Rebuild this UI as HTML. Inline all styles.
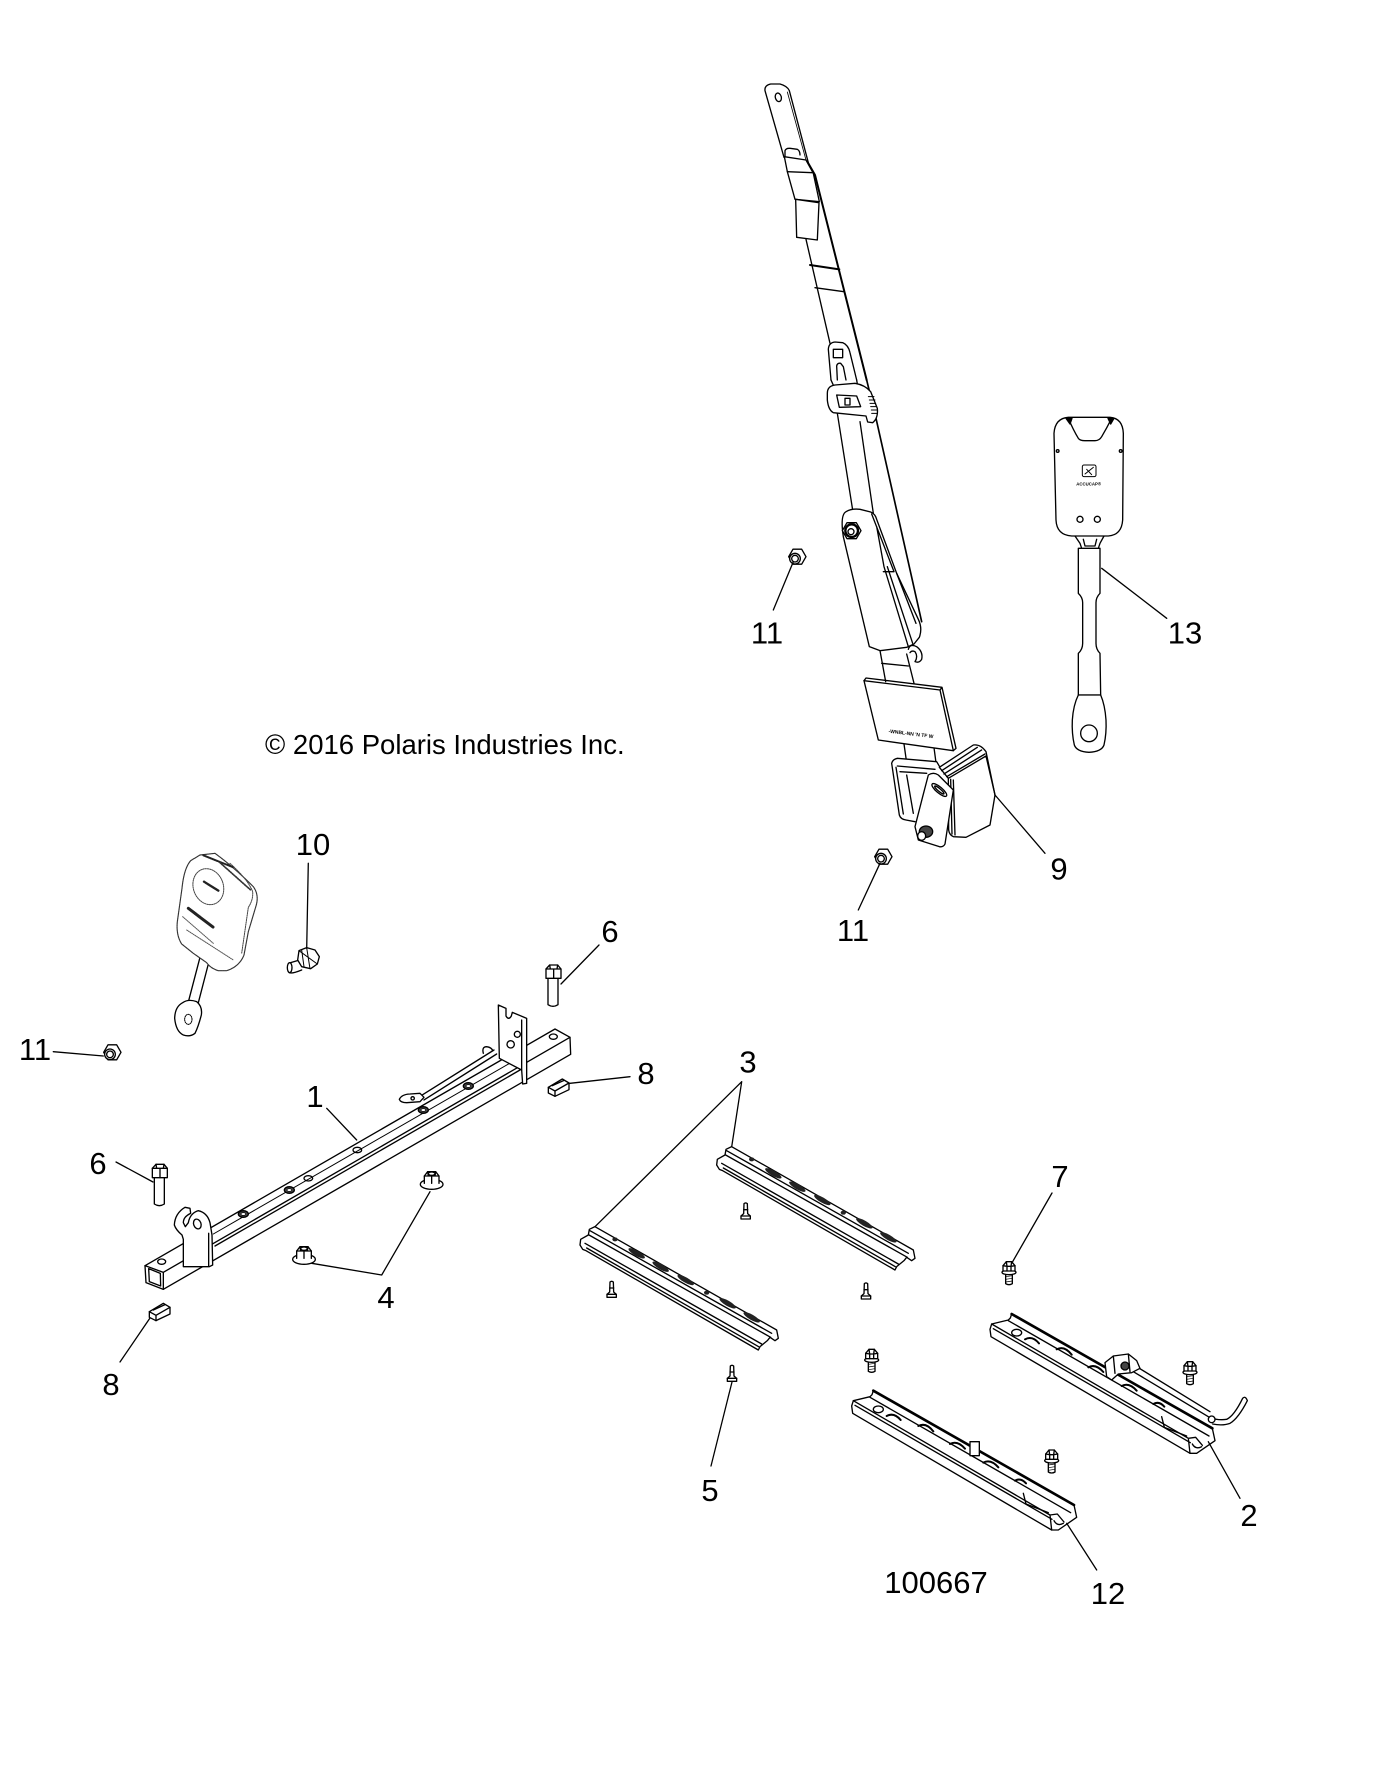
<!DOCTYPE html>
<html><head><meta charset="utf-8">
<style>
html,body{margin:0;padding:0;background:#fff;}
svg{display:block;}
text{font-family:"Liberation Sans",Arial,sans-serif;fill:#000;}
</style></head><body>
<svg width="1386" height="1782" viewBox="0 0 1386 1782" xmlns="http://www.w3.org/2000/svg" xmlns:xlink="http://www.w3.org/1999/xlink">
<rect width="1386" height="1782" fill="#fff"/>
<defs>
  <g id="nut">
    <polygon points="26,0 13,22.5 -13,22.5 -26,0 -13,-22.5 13,-22.5" fill="#fff"/>
    <circle cx="-7" cy="6" r="16" fill="#fff"/>
    <circle cx="-7" cy="6" r="10"/>
  </g>
  <g id="fb">
    <path d="M-10,14 L-10,46 Q0,52 10,46 L10,14" fill="#fff"/>
    <path d="M-10,25 L10,22 M-10,33 L10,30 M-10,41 L10,38" stroke-width="2"/>
    <ellipse cx="0" cy="12" rx="21" ry="7" fill="#fff"/>
    <path d="M-18,8 L-18,-8 L-8,-20 L8,-20 L18,-8 L18,8 Z" fill="#fff"/>
    <path d="M-8,-20 L-6,-6 L6,-6 L8,-20 M-18,-8 L-6,-6 M18,-8 L6,-6 M-6,-6 L-6,8 M6,-6 L6,8"/>
  </g>
  <g id="pin">
    <path d="M-5,-24 Q0,-28 5,-24 L6,6 L14,13 L14,22 L-14,22 L-14,13 L-6,6 Z" fill="#fff"/>
    <path d="M-6,-6 L6,-6 M-14,13 L14,13"/>
  </g>
  <g id="r3">
    <path d="M515,320 L1060,630 L1065,655 L1055,662 L1040,652 L1032,662 L1010,680 L1005,690 L488,392 L478,388 L470,375 L472,358 L495,345 L498,328 Z" fill="#fff"/>
    <path d="M500,332 L1045,640 M497,345 L1042,652 M485,370 L1015,672 M490,384 L1006,680"/>
    <g fill="#222" stroke="none">
      <ellipse cx="575" cy="358" rx="8" ry="6"/>
      <ellipse cx="640" cy="400" rx="28" ry="8" transform="rotate(30 640 400)"/>
      <ellipse cx="712" cy="440" rx="28" ry="8" transform="rotate(30 712 440)"/>
      <ellipse cx="787" cy="480" rx="28" ry="8" transform="rotate(30 787 480)"/>
      <ellipse cx="850" cy="518" rx="8" ry="6"/>
      <ellipse cx="913" cy="550" rx="28" ry="8" transform="rotate(30 913 550)"/>
      <ellipse cx="985" cy="592" rx="28" ry="8" transform="rotate(30 985 592)"/>
    </g>
  </g>
  <g id="r12">
    <path d="M70,182 L672,525 L680,562 L625,600 L605,600 L8,250 L5,228 L10,212 L60,200 L66,194 Z" fill="#fff"/>
    <path d="M70,182 L672,525" stroke-width="8"/>
    <path d="M10,212 L600,555 L605,600 M15,226 L606,568 M60,202 L662,548 M600,555 L622,552 L642,576 M612,572 Q622,590 640,580"/>
    <path d="M110,258 Q132,246 152,270 M205,288 Q228,276 250,304 M300,342 Q322,330 345,356 M400,398 Q422,386 445,412 M495,452 Q512,442 528,460" stroke-width="6"/>
    <ellipse cx="85" cy="238" rx="15" ry="10"/>
    <path d="M520,490 L528,522 L595,548"/>
  </g>
  <g id="clip8">
    <path d="M88,935 L130,910 L150,922 L150,942 L108,962 L88,952 Z" fill="#fff"/>
    <path d="M88,935 L108,946 L150,922 M108,946 L108,962 M100,930 L135,914"/>
  </g>
  <g id="bolt6">
    <path d="M103,533 L103,612 Q118,622 133,612 L133,533" fill="#fff"/>
    <path d="M97,505 L108,493 L132,493 L142,505 L142,533 L97,533 Z" fill="#fff"/>
    <path d="M108,493 L110,505 L130,505 L132,493 M97,505 L142,505 M120,505 L120,533"/>
  </g>
  <g id="nut4">
    <ellipse cx="0" cy="15" rx="34" ry="15" fill="#fff"/>
    <path d="M-22,12 L-22,-10 L-12,-23 L12,-23 L22,-10 L22,12" fill="#fff"/>
    <path d="M-22,-10 L22,-10 M0,-10 L0,12 M-12,-23 L-10,-10 M12,-23 L10,-10"/>
    <ellipse cx="0" cy="-17" rx="10" ry="5"/>
  </g>
</defs>

<g fill="none" stroke="#000" stroke-width="4" stroke-linejoin="round" stroke-linecap="round">

<!-- ===== Belt top (zoom 9 frame) ===== -->
<g transform="translate(700,60) scale(0.33333)">
  <path d="M252,292 L195,92 Q193,76 212,72 L240,72 Q262,78 268,92 L325,308"/>
  <path d="M262,96 L318,300" stroke-width="2.5"/>
  <ellipse cx="235" cy="112" rx="9" ry="13" transform="rotate(-15 235 112)"/>
  <path d="M255,290 L255,272 Q258,264 270,265 L292,268 Q300,272 300,285"/>
  <path d="M253,290 L318,300 L340,340 L358,425 L285,418 L262,335 Z" fill="#fff"/>
  <path d="M262,335 L338,338"/>
  <path d="M287,418 L357,428 L352,540 L290,532 Z" fill="#fff"/>
  <path d="M322,305 L345,345 L500,960" stroke-width="6"/>
  <path d="M318,538 L390,850"/>
  <path d="M330,615 L418,628" stroke-width="6"/>
  <path d="M345,683 L432,695"/>
  <path d="M393,960 L385,868 Q386,848 405,846 L428,848 Q445,855 450,878 L470,960"/>
  <rect x="400" y="868" width="28" height="25"/>
  <path d="M412,960 L410,918 Q412,908 422,910 L430,920 L438,960"/>
</g>

<!-- ===== Belt middle, buckle 13 (zoom 10 frame) ===== -->
<g transform="translate(740,380) scale(0.33333)">
  <path d="M273,0 L282,20 M350,0 L352,12"/>
  <path d="M292,100 L338,390"/>
  <path d="M360,125 L400,400"/>
  <path d="M380,0 L408,115 L545,725" stroke-width="5"/>
  <path d="M262,40 Q262,18 285,15 L345,10 Q375,15 392,35 L412,85 Q415,115 398,128 L383,126 L378,108 L298,100 L280,98 Q265,90 262,60 Z" fill="#fff"/>
  <path d="M290,45 L350,48 L362,80 L298,82 Z"/>
  <rect x="315" y="55" width="15" height="20"/>
  <path d="M385,50 L402,50 M388,60 L405,60 M390,70 L407,70 M392,80 L409,80 M394,90 L411,90 M395,100 L411,100" stroke-width="3"/>
  <!-- arm -->
  <path d="M310,470 Q300,405 318,395 Q335,385 360,388 L392,396 Q406,402 410,418 L470,580 L535,718 Q548,745 538,772 L522,792 L500,802 L420,812 L388,800 Z" fill="#fff"/>
  <path d="M395,402 L462,575 M410,440 L432,560 L505,800 M442,560 L518,790 M430,575 L462,575 M470,580 L528,730"/>
  <polygon points="363,452 349,476 321,476 307,452 321,428 349,428" fill="#fff"/>
  <circle cx="335" cy="452" r="19" fill="#fff" stroke-width="7"/>
  <circle cx="333" cy="455" r="9"/>
  <path d="M505,808 Q510,790 530,800 Q550,815 545,838 Q538,850 525,845 Q535,830 525,815 Q515,810 510,818"/>
  <path d="M420,812 L437,905 M500,822 L522,910 M425,850 L505,858"/>
  <!-- nut 11 upper -->
  <use xlink:href="#nut" href="#nut" x="172" y="530"/>
  <!-- buckle 13 -->
  <path d="M1015,505 L1080,505 L1080,640 Q1068,652 1068,668 L1068,790 Q1068,808 1080,820 L1082,945 L1015,945 L1015,820 Q1028,808 1028,790 L1028,668 Q1028,652 1015,640 Z" fill="#fff"/>
  <path d="M1015,945 Q1000,975 997,1020 Q995,1060 1003,1095 Q1010,1115 1047,1117 Q1085,1115 1092,1095 Q1100,1060 1098,1020 Q1095,975 1082,945 Z" fill="#fff"/>
  <circle cx="1047" cy="1060" r="25"/>
  <path d="M1005,468 L1020,490 L1025,505 L1075,505 L1080,490 L1092,468" fill="#fff"/>
  <path d="M1030,478 L1035,498 L1065,498 L1070,478"/>
  <path d="M985,112 L1110,112 Q1148,115 1150,160 L1148,420 Q1145,465 1105,468 L995,468 Q950,465 948,420 L942,160 Q945,115 985,112 Z" fill="#fff"/>
  <path d="M985,115 Q1000,150 1015,175 Q1020,182 1035,182 L1065,182 Q1078,182 1085,170 Q1100,145 1115,115"/>
  <polygon points="978,115 996,115 990,132" fill="#000"/>
  <polygon points="1104,115 1122,115 1112,132" fill="#000"/>
  <circle cx="953" cy="213" r="4"/>
  <circle cx="1142" cy="213" r="4"/>
  <rect x="1027" y="255" width="41" height="35" rx="5" stroke-width="3"/>
  <path d="M1035,282 L1060,262 M1040,268 L1055,284" stroke-width="3"/>
  <text x="1046" y="316" font-size="13" font-weight="bold" text-anchor="middle" stroke="none">ACCUCAP®</text>
  <circle cx="1020" cy="418" r="9"/>
  <circle cx="1072" cy="418" r="9"/>
</g>

<!-- ===== Retractor (zoom 11 frame) ===== -->
<g transform="translate(740,680) scale(0.33333)">
  <path d="M492,192 L500,248 M582,203 L588,248"/>
  <path d="M372,2 L378,-6 L606,22 L600,30 M606,22 L648,205 L640,212" />
  <polygon points="372,2 600,30 640,212 415,180" fill="#fff"/>
  <text x="445" y="158" font-size="15" font-weight="bold" transform="rotate(7 445 158)" stroke="none">-WNBL-NN 'N TF W</text>
  <path d="M455,250 Q458,238 472,235 L590,245 L600,262 M455,250 L478,405 Q482,418 498,420 L525,425 M468,262 L490,402 M472,258 L585,268 M480,275 L560,280 M500,285 L520,400" fill="#fff"/>
  <path d="M598,262 L700,195 Q722,192 738,215 L765,345 L750,435 L678,472 L640,470 Q628,465 626,450 L625,295 Z" fill="#fff"/>
  <path d="M605,272 L712,202 M612,282 L725,210 M620,290 L735,222 M625,295 L738,228 L765,345 M640,300 L645,465 M632,298 L636,462"/>
  <path d="M565,285 Q580,275 595,285 L640,330 L615,492 Q610,502 598,500 L535,480 L525,440 L548,350 Z" fill="#fff"/>
  <ellipse cx="598" cy="330" rx="28" ry="9" transform="rotate(40 598 330)"/>
  <ellipse cx="598" cy="330" rx="18" ry="4" transform="rotate(40 598 330)"/>
  <ellipse cx="558" cy="455" rx="20" ry="17" fill="#444"/>
  <ellipse cx="545" cy="468" rx="12" ry="13" fill="#fff"/>
  <use xlink:href="#nut" href="#nut" x="430" y="530"/>
</g>

<!-- ===== Left buckle / bolt 10 / nut 11 (zoom 12 frame) ===== -->
<g transform="translate(0,820) scale(0.33333)">
  <path d="M600,412 L566,542 M625,432 L595,548"/>
  <path d="M548,548 Q565,536 590,545 Q608,560 604,585 Q595,620 585,640 Q570,652 550,645 Q528,635 524,595 Q525,560 548,548 Z" fill="#fff"/>
  <ellipse cx="565" cy="598" rx="11" ry="15" stroke-dasharray="3 3" stroke-width="3"/>
  <path d="M600,105 L645,100 Q700,140 760,200 Q778,225 768,258 L745,335 L732,405 Q718,440 680,452 L655,452 Q632,445 620,428 L580,400 L545,372 Q528,345 532,305 L546,205 Q552,145 572,122 Z" fill="#fff" stroke="#333" stroke-width="3.5" stroke-dasharray="5 2"/>
  <path d="M690,130 Q745,180 758,215 Q760,240 745,262 L725,400" stroke="#444" stroke-width="3" stroke-dasharray="4 3"/>
  <ellipse cx="625" cy="200" rx="45" ry="55" transform="rotate(-20 625 200)" stroke="#444" stroke-width="3" stroke-dasharray="4 3"/>
  <path d="M565,265 L640,322" stroke="#222" stroke-width="9" stroke-dasharray="3 2"/>
  <path d="M612,185 L655,212" stroke="#222" stroke-width="7" stroke-dasharray="3 2"/>
  <path d="M610,106 L700,142" stroke="#222" stroke-width="6" stroke-dasharray="4 3"/>
  <path d="M660,128 L752,210" stroke="#333" stroke-width="5" stroke-dasharray="3 4"/>
  <path d="M548,290 L640,370 M560,330 L700,420" stroke="#555" stroke-width="3" stroke-dasharray="3 3"/>
  <!-- bolt 10 -->
  <path d="M905,418 L872,428 Q860,440 868,458 Q876,462 905,450" fill="#fff"/>
  <ellipse cx="869" cy="443" rx="7" ry="15" fill="#fff"/>
  <polygon points="897,392 920,383 945,390 958,410 952,432 932,446 905,440 893,420" fill="#fff"/>
  <path d="M905,390 L912,440 M920,383 L930,446 M897,392 L952,432" stroke-width="3"/>
  <use xlink:href="#nut" href="#nut" x="337" y="697"/>
</g>

<!-- ===== Tube (item 1), nuts 4, bolts 6, clips 8 (zoom 6 frame) ===== -->
<g transform="translate(120,1000) scale(0.33333)">
  <path d="M75,797 L1305,87 L1350,112 L1352,163 L130,868 L78,848 Z" fill="#fff"/>
  <path d="M75,797 L130,817 L130,868 M130,817 L1350,112"/>
  <path d="M285,738 L1200,210"/>
  <path d="M280,702 L1195,175" stroke-width="3"/>
  <path d="M86,806 L121,820 L122,858 L88,845 Z"/>
  <ellipse cx="125" cy="785" rx="12" ry="8"/>
  <ellipse cx="1300" cy="110" rx="12" ry="8"/>
  <g fill="#444">
    <ellipse cx="370" cy="642" rx="15" ry="10"/>
    <ellipse cx="508" cy="570" rx="15" ry="10"/>
    <ellipse cx="910" cy="330" rx="15" ry="10"/>
    <ellipse cx="1045" cy="258" rx="15" ry="10"/>
  </g>
  <g fill="#fff" stroke-width="2">
    <ellipse cx="370" cy="642" rx="7" ry="4"/>
    <ellipse cx="508" cy="570" rx="7" ry="4"/>
    <ellipse cx="910" cy="330" rx="7" ry="4"/>
    <ellipse cx="1045" cy="258" rx="7" ry="4"/>
  </g>
  <ellipse cx="565" cy="535" rx="13" ry="8"/>
  <ellipse cx="712" cy="450" rx="13" ry="8"/>
  <!-- near bracket -->
  <path d="M190,800 L190,718 L186,705 Q168,690 163,675 Q165,640 195,622 L210,625 L212,640 Q190,650 190,668 L196,680 L205,668 Q210,640 235,632 Q262,638 270,668 L276,705 L278,795 L268,800 Z" fill="#fff"/>
  <path d="M266,700 L266,798"/>
  <ellipse cx="232" cy="672" rx="11" ry="15" transform="rotate(-20 232 672)"/>
  <!-- lever -->
  <path d="M905,286 L1122,150 M912,300 L1130,162"/>
  <path d="M1090,160 Q1085,140 1100,140 Q1115,142 1118,152"/>
  <path d="M838,298 Q845,283 870,282 L900,280 L912,292 L900,305 L860,308 Q842,308 838,298 Z" fill="#fff"/>
  <circle cx="878" cy="295" r="5"/>
  <!-- far bracket -->
  <path d="M1135,15 L1158,25 L1158,48 Q1166,62 1174,48 L1177,37 L1220,55 L1220,250 L1208,252 L1205,210 L1138,175 Z" fill="#fff"/>
  <path d="M1205,60 L1205,210"/>
  <circle cx="1192" cy="103" r="9"/>
  <circle cx="1172" cy="133" r="11"/>
  <!-- nuts 4 -->
  <use xlink:href="#nut4" href="#nut4" x="935" y="538"/>
  <use xlink:href="#nut4" href="#nut4" x="552" y="763"/>
  <!-- bolts 6 -->
  <use xlink:href="#bolt6" href="#bolt6"/>
  <use xlink:href="#bolt6" href="#bolt6" transform="translate(1181,-598)"/>
  <!-- clips 8 -->
  <use xlink:href="#clip8" href="#clip8"/>
  <use xlink:href="#clip8" href="#clip8" transform="translate(1197,-673)"/>
</g>

<!-- ===== Rails 3, pins 5, bolt 7 (zoom 7 frame) ===== -->
<g transform="translate(560,1040) scale(0.33333)">
  <use xlink:href="#r3" href="#r3"/>
  <use xlink:href="#r3" href="#r3" transform="translate(-410,240)"/>
  <use xlink:href="#pin" href="#pin" x="557" y="515"/>
  <use xlink:href="#pin" href="#pin" x="155" y="750"/>
  <use xlink:href="#pin" href="#pin" x="918" y="755"/>
  <use xlink:href="#pin" href="#pin" x="516" y="1002"/>
  <use xlink:href="#fb" href="#fb" x="1347" y="685"/>
</g>

<!-- ===== Rails 12 & 2, bolts (zoom 8 frame) ===== -->
<g transform="translate(850,1330) scale(0.33333)">
  <use xlink:href="#r12" href="#r12" transform="translate(415,-230)"/>
  <path d="M860,110 L1080,245 M850,125 L1075,260"/>
  <path d="M765,98 L790,78 L835,72 L860,92 L870,115 L845,128 L805,132 L785,150 L770,140 Z" fill="#fff"/>
  <circle cx="825" cy="108" r="12" fill="#444"/>
  <path d="M790,78 L795,130 M835,72 L840,125"/>
  <path d="M1078,262 Q1105,272 1130,268 Q1152,258 1178,205 M1088,282 Q1118,288 1140,280 Q1165,265 1192,212 M1178,205 Q1186,196 1192,212"/>
  <circle cx="1085" cy="268" r="10" fill="#fff"/>
  <use xlink:href="#r12" href="#r12"/>
  <rect x="360" y="335" width="28" height="42" fill="#fff"/>
  <use xlink:href="#fb" href="#fb" x="65" y="78"/>
  <use xlink:href="#fb" href="#fb" x="1020" y="115"/>
  <use xlink:href="#fb" href="#fb" x="605" y="380"/>
</g>

<!-- ===== Leader lines (original coords) ===== -->
<g stroke-width="1.3">
  <path d="M793.3,561.7 L773.3,610"/>
  <path d="M1101.7,568.3 L1166.7,618.3"/>
  <path d="M995,795 L1045,853.3"/>
  <path d="M880,863.3 L858.3,910"/>
  <path d="M308.3,863.3 L306.7,948.3"/>
  <path d="M599,945 L561,984"/>
  <path d="M53.3,1051.7 L103.3,1056"/>
  <path d="M630,1076.7 L570,1083.3"/>
  <path d="M741.7,1081.7 L731.7,1146.7 M741.7,1081.7 L595,1226.7"/>
  <path d="M326.7,1108.3 L356.7,1140"/>
  <path d="M116,1162 L153,1182"/>
  <path d="M1052,1193 L1011.7,1263.3"/>
  <path d="M430,1191.7 L381.7,1275 L311.7,1263.3"/>
  <path d="M120,1362 L150,1318"/>
  <path d="M711,1466 L732,1382"/>
  <path d="M1208.3,1441.7 L1240,1498.3"/>
  <path d="M1066.7,1523.3 L1096.7,1570"/>
</g>
</g>

<!-- ===== Labels ===== -->
<g font-size="31" text-anchor="middle">
  <text x="767" y="643.5">11</text>
  <text x="1185" y="643.5">13</text>
  <text x="1059" y="879.5">9</text>
  <text x="853" y="941">11</text>
  <text x="313" y="855">10</text>
  <text x="610" y="942">6</text>
  <text x="35" y="1060">11</text>
  <text x="646" y="1084">8</text>
  <text x="748" y="1072.5">3</text>
  <text x="315" y="1107">1</text>
  <text x="98" y="1174">6</text>
  <text x="1060" y="1187">7</text>
  <text x="386" y="1308">4</text>
  <text x="111" y="1395">8</text>
  <text x="710" y="1501">5</text>
  <text x="1249" y="1526">2</text>
  <text x="936" y="1593">100667</text>
  <text x="1108" y="1604">12</text>
</g>
<text x="265" y="754" font-size="27.5">© 2016 Polaris Industries Inc.</text>
</svg>
</body></html>
